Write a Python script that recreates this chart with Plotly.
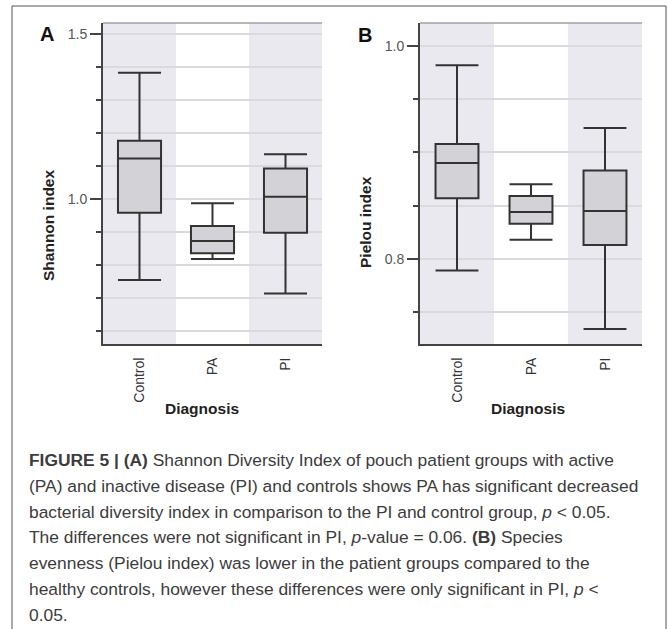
import plotly.graph_objects as go

W, H = 668, 629

categories = ["Control", "PA", "PI"]

# Panel A: Shannon index box statistics
shannon_lower = [0.754, 0.818, 0.713]
shannon_q1 = [0.958, 0.835, 0.897]
shannon_median = [1.122, 0.872, 1.006]
shannon_q3 = [1.176, 0.918, 1.092]
shannon_upper = [1.382, 0.987, 1.135]

# Panel B: Pielou index box statistics
pielou_lower = [0.789, 0.818, 0.734]
pielou_q1 = [0.857, 0.833, 0.813]
pielou_median = [0.890, 0.844, 0.845]
pielou_q3 = [0.908, 0.859, 0.883]
pielou_upper = [0.982, 0.870, 0.923]

caption_lines = [
    "<b>FIGURE 5 | (A)</b> Shannon Diversity Index of pouch patient groups with active",
    "(PA) and inactive disease (PI) and controls shows PA has significant decreased",
    "bacterial diversity index in comparison to the PI and control group, <i>p</i> &lt; 0.05.",
    "The differences were not significant in PI, <i>p</i>-value = 0.06. <b>(B)</b> Species",
    "evenness (Pielou index) was lower in the patient groups compared to the",
    "healthy controls, however these differences were only significant in PI, <i>p</i> &lt;",
    "0.05.",
]

def px_x(v):
    return v / W

def px_y(v):
    return 1 - v / H

BOX_FILL = "#d3d3d7"
BOX_LINE = "#333333"
BAND = "#e9e9ef"
GRID = "#d9d9de"
AXIS = "#444444"

fig = go.Figure()

fig.add_trace(go.Box(
    x=categories, q1=shannon_q1, median=shannon_median, q3=shannon_q3,
    lowerfence=shannon_lower, upperfence=shannon_upper,
    width=0.59, whiskerwidth=1, fillcolor=BOX_FILL,
    line=dict(color=BOX_LINE, width=2), boxpoints=False,
    xaxis="x", yaxis="y", showlegend=False, hoverinfo="skip"))

fig.add_trace(go.Box(
    x=categories, q1=pielou_q1, median=pielou_median, q3=pielou_q3,
    lowerfence=pielou_lower, upperfence=pielou_upper,
    width=0.58, whiskerwidth=1, fillcolor=BOX_FILL,
    line=dict(color=BOX_LINE, width=2), boxpoints=False,
    xaxis="x2", yaxis="y2", showlegend=False, hoverinfo="skip"))

ydom = [px_y(344), px_y(23)]

xcommon = dict(type="category", range=[-0.5, 2.5], showgrid=False, zeroline=False,
               showline=True, linecolor=AXIS, linewidth=2, ticks="",
               tickangle=-90, ticklabelstandoff=6,
               tickfont=dict(family="Liberation Sans, Arial, sans-serif", size=14, color="#333333"))

ycommon = dict(showgrid=True, gridcolor=GRID, gridwidth=1.5, zeroline=False,
               showline=True, linecolor=AXIS, linewidth=2,
               ticks="outside", ticklen=11, tickwidth=2, tickcolor=AXIS,
               tickformat=".1f",
               tickfont=dict(family="Liberation Sans, Arial, sans-serif", size=14, color="#555555"))

fig.update_layout(
    width=W, height=H,
    margin=dict(l=0, r=0, t=0, b=0),
    paper_bgcolor="white", plot_bgcolor="white",
    xaxis=dict(domain=[px_x(103), px_x(322)], anchor="y", **xcommon),
    yaxis=dict(domain=ydom, anchor="x", range=[0.56, 1.533], tick0=0, dtick=0.5,
               minor=dict(dtick=0.1, tick0=0, ticks="outside", ticklen=5, tickwidth=2,
                          tickcolor=AXIS, showgrid=True, gridcolor=GRID, gridwidth=1.5),
               **ycommon),
    xaxis2=dict(domain=[px_x(420), px_x(642)], anchor="y2", **xcommon),
    yaxis2=dict(domain=ydom, anchor="x2", range=[0.72, 1.0216], tick0=0, dtick=0.2,
                minor=dict(dtick=0.05, tick0=0, ticks="outside", ticklen=5, tickwidth=2,
                           tickcolor=AXIS, showgrid=True, gridcolor=GRID, gridwidth=1.5),
                **ycommon),
)

shapes = []
for xr, yr in (("x", "y"), ("x2", "y2")):
    for c0 in (-0.5, 1.5):
        shapes.append(dict(type="rect", xref=xr, yref=yr + " domain", x0=c0, x1=c0 + 1,
                           y0=0, y1=1, fillcolor=BAND, line=dict(width=0), layer="below"))
    shapes.append(dict(type="line", xref=xr + " domain", yref=yr + " domain", x0=0, x1=1,
                       y0=1, y1=1, line=dict(color="#a0a0a4", width=1.5), layer="above"))

# outer frame
frame = dict(color="#555555", width=1)
shapes.append(dict(type="line", xref="paper", yref="paper", x0=px_x(12), x1=px_x(12), y0=0, y1=px_y(6), line=frame))
shapes.append(dict(type="line", xref="paper", yref="paper", x0=px_x(12), x1=px_x(666), y0=px_y(6), y1=px_y(6), line=frame))
shapes.append(dict(type="line", xref="paper", yref="paper", x0=px_x(666), x1=px_x(666), y0=0, y1=px_y(6), line=frame))
fig.update_layout(shapes=shapes)

def centered(text, x, y, font, angle=0):
    return dict(text=text, x=px_x(x), y=px_y(y), xref="paper", yref="paper",
                xanchor="center", yanchor="middle", showarrow=False,
                textangle=angle, font=font)

ann = []
title_font = dict(family="Liberation Sans, Arial, sans-serif", size=15.5, color="#222222")
letter_font = dict(family="Liberation Sans, Arial, sans-serif", size=20, color="#111111")
ann.append(centered("<b>A</b>", 47, 34, letter_font))
ann.append(centered("<b>B</b>", 365, 35, letter_font))
ann.append(centered("<b>Shannon index</b>", 48, 226, title_font, -90))
ann.append(centered("<b>Pielou index</b>", 365, 222, title_font, -90))
ann.append(centered("<b>Diagnosis</b>", 202, 408, title_font))
ann.append(centered("<b>Diagnosis</b>", 528, 408, title_font))

cap_font = dict(family="Liberation Sans, Arial, sans-serif", size=17.4, color="#3c3c3c")
for i, line in enumerate(caption_lines):
    ann.append(dict(text=line, x=px_x(27), y=px_y(460 + i * 25.8), xref="paper", yref="paper",
                    xanchor="left", yanchor="middle", showarrow=False, font=cap_font))
fig.update_layout(annotations=ann)

fig.write_html("out.html")
